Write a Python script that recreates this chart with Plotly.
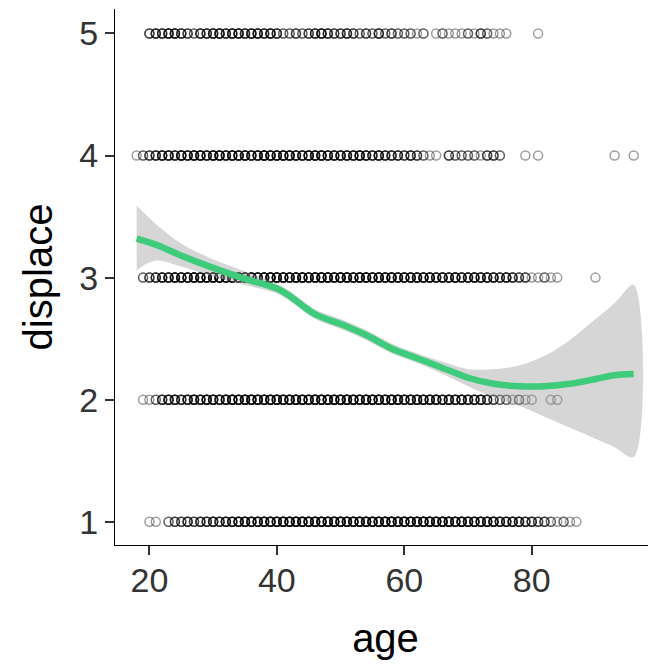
import plotly.graph_objects as go

# ---- observed points: age values present at each displace level, and how many overlap there ----
age_d5 = [20,21,22,23,24,25,26,27,28,29,30,31,32,33,34,35,36,37,38,39,40,41,42,43,44,45,46,47,48,49,
          50,51,52,53,54,55,56,57,58,59,60,61,62,63,65,66,67,68,69,70,71,72,73,74,75,76,81]
cnt_d5 = [3,4,4,5,5,4,3,2,4,4,5,5,4,5,5,4,5,5,4,5,4,2,2,3,2,3,4,5,4,3,
          3,4,3,2,3,2,4,2,3,2,2,2,1,2,1,2,1,1,1,2,1,3,2,1,1,1,1]

age_d4 = [18,19,20,21,22,23,24,25,26,27,28,29,30,31,32,33,34,35,36,37,38,39,40,41,42,43,44,45,46,47,
          48,49,50,51,52,53,54,55,56,57,58,59,60,61,62,63,64,65,67,68,69,70,71,72,73,74,75,79,81,93,96]
cnt_d4 = [1,2,3,4,5,5,4,6,5,6,6,5,6,6,5,6,6,6,5,6,7,6,6,6,6,5,5,6,6,6,
          5,5,5,5,5,6,5,4,5,4,4,4,3,4,3,2,1,1,3,2,2,2,2,1,3,3,2,1,1,1,1]

age_d3 = [19,20,21,22,23,24,25,26,27,28,29,30,31,32,33,34,35,36,37,38,39,40,41,42,43,44,45,46,47,48,
          49,50,51,52,53,54,55,56,57,58,59,60,61,62,63,64,65,66,67,68,69,70,71,72,73,74,75,76,77,78,
          79,80,81,82,83,84,90]
cnt_d3 = [2,3,4,5,5,6,6,6,7,6,7,7,7,6,7,7,7,7,6,7,7,7,7,6,7,7,6,7,7,7,
          6,7,7,6,7,7,6,7,6,7,6,6,6,6,6,6,5,6,5,6,5,5,6,5,5,5,4,5,4,3,
          3,1,1,2,1,1,1]

age_d2 = [19,20,21,22,23,24,25,26,27,28,29,30,31,32,33,34,35,36,37,38,39,40,41,42,43,44,45,46,47,48,
          49,50,51,52,53,54,55,56,57,58,59,60,61,62,63,64,65,66,67,68,69,70,71,72,73,74,75,76,77,78,
          79,80,83,84]
cnt_d2 = [1,1,2,4,5,5,4,5,6,5,6,6,5,6,7,6,7,7,7,6,7,7,7,7,7,7,6,7,7,7,
          7,7,7,7,6,7,7,7,6,7,7,6,6,6,6,6,6,5,6,5,6,5,5,5,4,3,2,2,1,2,
          1,1,1,1]

age_d1 = [20,21,23,24,25,26,27,28,29,30,31,32,33,34,35,36,37,38,39,40,41,42,43,44,45,46,47,48,49,50,
          51,52,53,54,55,56,57,58,59,60,61,62,63,64,65,66,67,68,69,70,71,72,73,74,75,76,77,78,79,80,
          81,82,83,84,85,86,87]
cnt_d1 = [1,1,2,3,3,4,3,4,4,5,4,5,5,6,6,6,6,6,6,6,7,7,7,7,7,7,7,7,7,7,
          7,7,7,7,7,7,7,7,7,7,7,7,7,7,7,7,7,6,7,6,6,6,6,6,5,5,5,5,4,4,
          3,3,2,1,2,1,1]

levels = [5, 4, 3, 2, 1]
level_ages = [age_d5, age_d4, age_d3, age_d2, age_d1]
level_counts = [cnt_d5, cnt_d4, cnt_d3, cnt_d2, cnt_d1]

# ---- loess smooth with confidence band ----
age_fit = [18, 21, 25, 30, 35, 40, 42, 46, 50, 54, 58, 62, 66, 70, 74, 78, 82, 86, 90, 93, 96]
fit     = [3.32, 3.27, 3.18, 3.08, 2.99, 2.91, 2.85, 2.70, 2.62, 2.53, 2.42, 2.34, 2.26, 2.18, 2.13,
           2.11, 2.11, 2.13, 2.17, 2.20, 2.21]
fit_lo  = [3.06, 3.14, 3.09, 3.01, 2.94, 2.87, 2.81, 2.66, 2.58, 2.49, 2.38, 2.30, 2.21, 2.11, 2.02,
           1.95, 1.86, 1.77, 1.68, 1.61, 1.53]
fit_hi  = [3.59, 3.44, 3.28, 3.15, 3.05, 2.95, 2.89, 2.74, 2.66, 2.57, 2.46, 2.38, 2.31, 2.25, 2.25,
           2.28, 2.36, 2.49, 2.66, 2.79, 2.94]

x_ticks = [20, 40, 60, 80]
y_ticks = [1, 2, 3, 4, 5]

# expand to individual observations
px, py = [], []
for lev, ages, cnts in zip(levels, level_ages, level_counts):
    for a, n in zip(ages, cnts):
        for _ in range(n):
            px.append(a)
            py.append(lev)

fig = go.Figure()
fig.add_trace(go.Scatter(
    x=px, y=py, mode="markers",
    marker=dict(symbol="circle-open", size=9, color="rgba(0,0,0,0.38)",
                line=dict(width=1.5, color="rgba(0,0,0,0.38)")),
    hoverinfo="skip", showlegend=False))
fig.add_trace(go.Scatter(
    x=age_fit + age_fit[::-1], y=fit_hi + fit_lo[::-1],
    fill="toself", fillcolor="rgba(153,153,153,0.4)", line=dict(width=0),
    mode="lines", hoverinfo="skip", showlegend=False, line_shape="spline"))
fig.add_trace(go.Scatter(
    x=age_fit, y=fit, mode="lines", line=dict(color="#3ECB7B", width=6.5, shape="spline"),
    hoverinfo="skip", showlegend=False))

font_family = "Liberation Sans, Arial, sans-serif"
# the page body adds an 8px offset, so the figure is sized to keep the panel where the reference has it
fig.update_layout(
    width=648, height=657,
    margin=dict(l=107, r=0, t=1, b=120),
    paper_bgcolor="white", plot_bgcolor="white",
    font=dict(family=font_family, color="#333333"),
)
fig.update_xaxes(
    range=[14.6, 99.5], tickvals=x_ticks, ticktext=[str(v) for v in x_ticks],
    showgrid=False, zeroline=False, showline=True, linecolor="black", linewidth=1.3,
    ticks="outside", ticklen=9, tickwidth=1.5, tickcolor="#333333",
    tickfont=dict(size=34, color="#333333"), automargin=False, ticklabelstandoff=-4,
    title=dict(text="age", font=dict(size=40, color="black"), standoff=26),
)
fig.update_yaxes(
    range=[0.81, 5.2], tickvals=y_ticks, ticktext=[str(v) for v in y_ticks],
    showgrid=False, zeroline=False, showline=True, linecolor="black", linewidth=1.3,
    ticks="outside", ticklen=9, tickwidth=1.5, tickcolor="#333333",
    tickfont=dict(size=34, color="#333333"), automargin=False,
    title=dict(text="displace", font=dict(size=40, color="black"), standoff=14),
)
fig.write_html("out.html")
